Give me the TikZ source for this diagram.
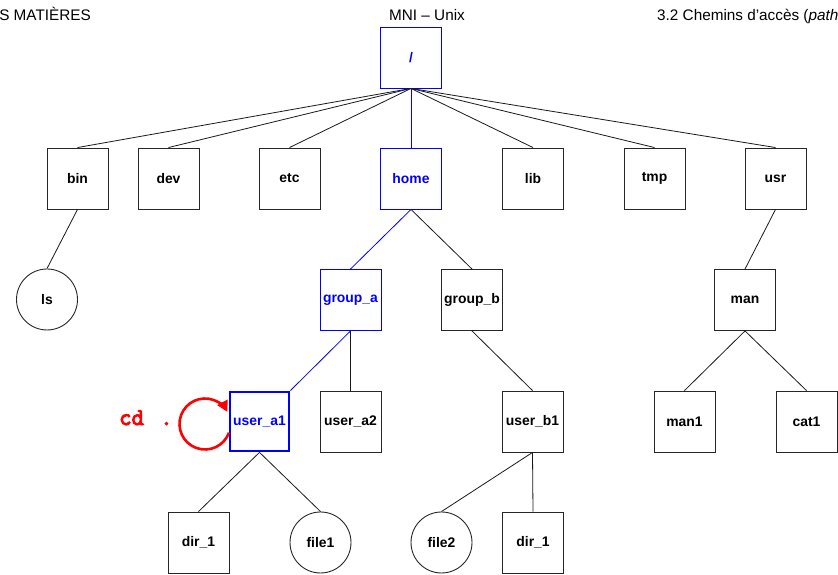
\documentclass[tikz,border=0pt]{standalone}
\usepackage{fontspec}
\setmainfont{Liberation Sans}
\newfontfamily\cdfont[FakeBold=4]{Latin Modern Mono}
\usetikzlibrary{arrows.meta}
\begin{document}
\begin{tikzpicture}[x=1pt,y=1pt,
  dirbox/.style={draw=black!85, line width=0.9pt, minimum size=61pt, inner sep=0pt,
    font=\fontsize{13.9}{14}\selectfont\bfseries},
  filecirc/.style={dirbox, circle},
  hl/.style={draw=blue, text=blue},
  hlthick/.style={hl, line width=2.8pt, minimum size=59pt},
  edge/.style={line width=0.8pt, draw=black!90},
  hledge/.style={line width=0.8pt, draw=blue},
  hdr/.style={inner sep=0pt, font=\fontsize{15.3}{16}\selectfont},
  loop/.style={draw=red, line width=2.6pt, -{Triangle[length=11pt,width=11pt]}}
]
\useasboundingbox (0,0) rectangle (838,575);
\begin{scope}
\clip (0,0) rectangle (838,575);

% header
\node[hdr, anchor=base east] (hleft) at (91,554) {TABLE DES MATIÈRES};
\node[hdr, anchor=base] (hcenter) at (427,554) {MNI – Unix};
\node[hdr, anchor=base west] (hright) at (657,554) {3.2 Chemins d’accès (\textit{path})};

% nodes
\node[dirbox, hl] (root) at (411,517.5) {/};

\node[dirbox] (bin) at (77.5,396.5) {bin};
\node[dirbox] (dev) at (168.5,396.5) {dev};
\node[dirbox] (etc) at (289.5,396.5) {etc};
\node[dirbox, hl] (home) at (411,396.5) {home};
\node[dirbox] (lib) at (533,396.5) {lib};
\node[dirbox] (tmp) at (654.5,396.5) {tmp};
\node[dirbox] (usr) at (775.5,396.5) {usr};

\node[filecirc] (ls) at (47,275.5) {ls};
\node[dirbox, hl] (groupa) at (350.5,275) {group\_a};
\node[dirbox] (groupb) at (472,275) {group\_b};
\node[dirbox] (man) at (745,275) {man};

\node[dirbox, hlthick] (usera1) at (259.5,153.5) {user\_a1};
\node[dirbox] (usera2) at (350.5,153.5) {user\_a2};
\node[dirbox] (userb1) at (532.5,153.5) {user\_b1};
\node[dirbox] (man1) at (684.5,153.5) {man1};
\node[dirbox] (cat1) at (806.5,153.5) {cat1};

\node[dirbox] (dira) at (198.5,32.5) {dir\_1};
\node[filecirc] (file1) at (320.5,32.5) {file1};
\node[filecirc] (file2) at (441.5,32.5) {file2};
\node[dirbox] (dirb) at (533,32.5) {dir\_1};

% edges
\foreach \c in {bin,dev,etc,lib,tmp,usr}
  \draw[edge] (root.south) -- (\c.north);
\draw[hledge] (root.south) -- (home.north);
\draw[edge] (bin.south) -- (ls.north);
\draw[hledge] (home.south) -- (groupa.north);
\draw[edge] (home.south) -- (groupb.north);
\draw[edge] (usr.south) -- (man.north);
\draw[hledge] (groupa.south) -- (usera1.north east);
\draw[edge] (groupa.south) -- (usera2.north);
\draw[edge] (groupb.south) -- (userb1.north);
\draw[edge] (man.south) -- (man1.north);
\draw[edge] (man.south) -- (cat1.north);
\draw[edge] (usera1.south) -- (dira.north);
\draw[edge] (usera1.south) -- (file1.north);
\draw[edge] (userb1.south) -- (file2.north);
\draw[edge] (userb1.south) -- (dirb.north);

% cd . loop
\node[anchor=base west, inner sep=0pt, text=red,
  font=\cdfont\fontsize{24}{24}\selectfont] (cd) at (119,150) {cd\hspace{4pt} .};
\coordinate (loopc) at (205,151);
\draw[loop] ([shift={(-20:25.5)}]loopc) arc[start angle=-20, end angle=-332, radius=25.5];
\end{scope}
\end{tikzpicture}
\end{document}
